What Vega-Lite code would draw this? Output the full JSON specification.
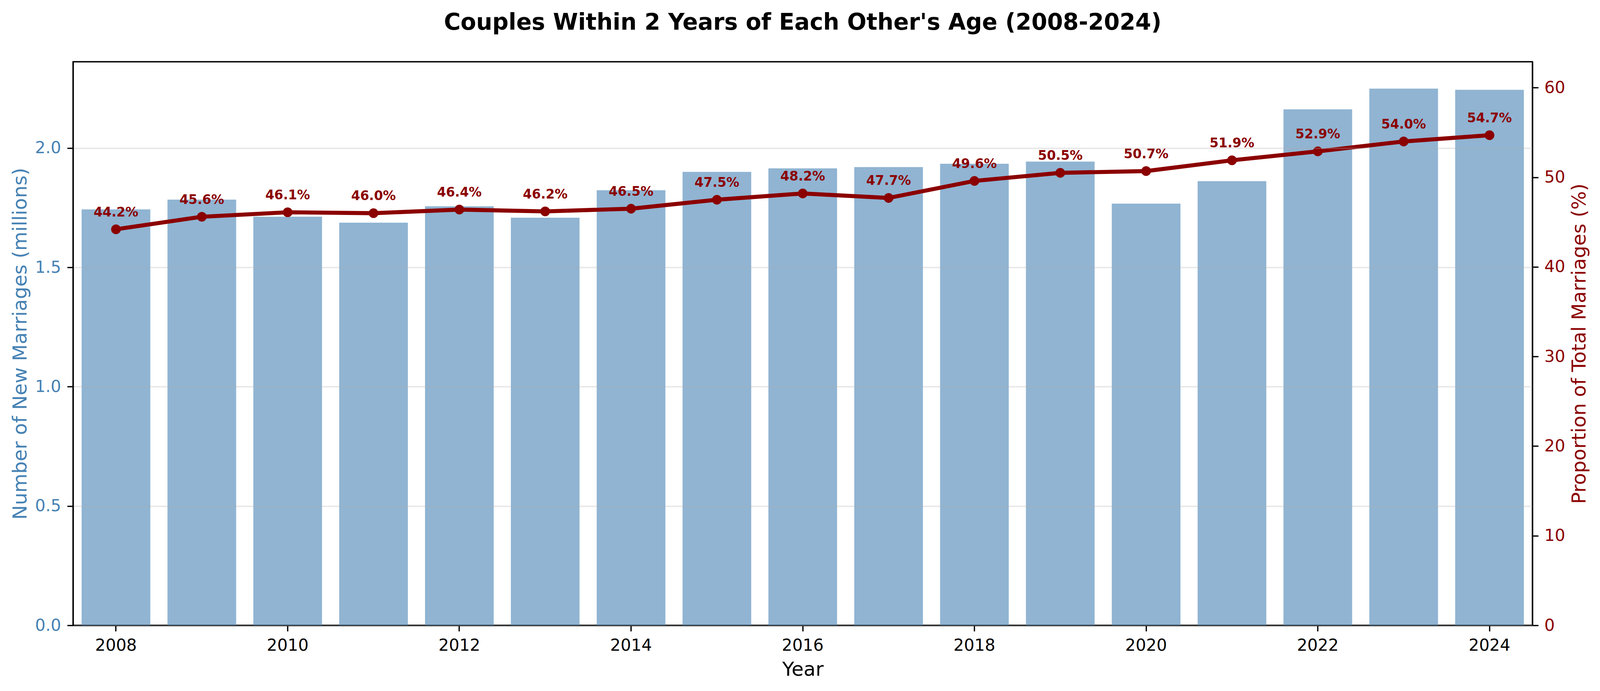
{
  "$schema": "https://vega.github.io/schema/vega-lite/v6.json",
  "description": "Couples within 2 years of each other's age, 2008-2024: new marriages (bars) and share of all marriages (line).",
  "autosize": {"type": "none"},
  "padding": {"left": 187, "top": 158, "right": 243, "bottom": 168},
  "width": 3736,
  "height": 1442,
  "background": "white",
  "title": {
    "text": "Couples Within 2 Years of Each Other's Age (2008-2024)",
    "fontSize": 58,
    "fontWeight": "bold",
    "color": "black",
    "anchor": "middle",
    "frame": "group",
    "baseline": "alphabetic",
    "offset": 24
  },
  "data": {
    "values": [
      {"year": 2008, "marriages": 1.743, "pct": 44.2, "label": "44.2%"},
      {"year": 2009, "marriages": 1.784, "pct": 45.6, "label": "45.6%"},
      {"year": 2010, "marriages": 1.712, "pct": 46.1, "label": "46.1%"},
      {"year": 2011, "marriages": 1.687, "pct": 46.0, "label": "46.0%"},
      {"year": 2012, "marriages": 1.756, "pct": 46.4, "label": "46.4%"},
      {"year": 2013, "marriages": 1.708, "pct": 46.2, "label": "46.2%"},
      {"year": 2014, "marriages": 1.823, "pct": 46.5, "label": "46.5%"},
      {"year": 2015, "marriages": 1.900, "pct": 47.5, "label": "47.5%"},
      {"year": 2016, "marriages": 1.915, "pct": 48.2, "label": "48.2%"},
      {"year": 2017, "marriages": 1.920, "pct": 47.7, "label": "47.7%"},
      {"year": 2018, "marriages": 1.934, "pct": 49.6, "label": "49.6%"},
      {"year": 2019, "marriages": 1.943, "pct": 50.5, "label": "50.5%"},
      {"year": 2020, "marriages": 1.767, "pct": 50.7, "label": "50.7%"},
      {"year": 2021, "marriages": 1.861, "pct": 51.9, "label": "51.9%"},
      {"year": 2022, "marriages": 2.162, "pct": 52.9, "label": "52.9%"},
      {"year": 2023, "marriages": 2.249, "pct": 54.0, "label": "54.0%"},
      {"year": 2024, "marriages": 2.244, "pct": 54.7, "label": "54.7%"}
    ]
  },
  "encoding": {
    "x": {
      "field": "year",
      "type": "ordinal",
      "scale": {"paddingInner": 0.2, "paddingOuter": 0.1},
      "axis": {
        "title": "Year",
        "values": [2008, 2010, 2012, 2014, 2016, 2018, 2020, 2022, 2024],
        "labelAngle": 0,
        "labelPadding": 16,
        "titlePadding": 16
      }
    }
  },
  "layer": [
    {
      "mark": {"type": "bar", "color": "#4682B4", "opacity": 0.6},
      "encoding": {
        "y": {
          "field": "marriages",
          "type": "quantitative",
          "scale": {"domain": [0, 2.3615], "nice": false, "zero": true},
          "axis": {
            "title": "Number of New Marriages (millions)",
            "values": [0, 0.5, 1, 1.5, 2],
            "format": ".1f",
            "labelColor": "#4682B4",
            "titleColor": "#4682B4",
            "labelPadding": 16,
            "titlePadding": 12,
            "grid": true,
            "gridColor": "#b0b0b0",
            "gridOpacity": 0.3,
            "gridWidth": 3.3,
            "zindex": 1
          }
        }
      }
    },
    {
      "encoding": {
        "y": {
          "field": "pct",
          "type": "quantitative",
          "scale": {"domain": [0, 62.9], "nice": false, "zero": true},
          "axis": {
            "orient": "right",
            "title": "Proportion of Total Marriages (%)",
            "values": [0, 10, 20, 30, 40, 50, 60],
            "labelColor": "#8B0000",
            "titleColor": "#8B0000",
            "labelPadding": 15,
            "titleAngle": 270,
            "titleBaseline": "middle",
            "titleAlign": "center",
            "titleX": 120,
            "titleY": 721,
            "grid": false
          }
        }
      },
      "layer": [
        {
          "mark": {
            "type": "line",
            "color": "#8B0000",
            "strokeWidth": 10.4,
            "point": {"filled": true, "size": 616, "color": "#8B0000", "opacity": 1}
          }
        },
        {
          "mark": {
            "type": "text",
            "color": "#8B0000",
            "fontSize": 33,
            "fontWeight": "bold",
            "align": "center",
            "baseline": "alphabetic",
            "dy": -33
          },
          "encoding": {"text": {"field": "label", "type": "nominal"}}
        }
      ]
    }
  ],
  "resolve": {"scale": {"y": "independent"}},
  "config": {
    "font": "DejaVu Sans",
    "view": {"stroke": "black", "strokeWidth": 3.3},
    "axis": {
      "domainColor": "black",
      "domainWidth": 3.3,
      "tickColor": "black",
      "tickWidth": 3.3,
      "tickSize": 15,
      "labelFont": "DejaVu Sans",
      "labelFontSize": 42,
      "labelColor": "black",
      "titleFont": "DejaVu Sans",
      "titleFontSize": 50,
      "titleFontWeight": "normal",
      "titleColor": "black",
      "grid": false
    }
  }
}
